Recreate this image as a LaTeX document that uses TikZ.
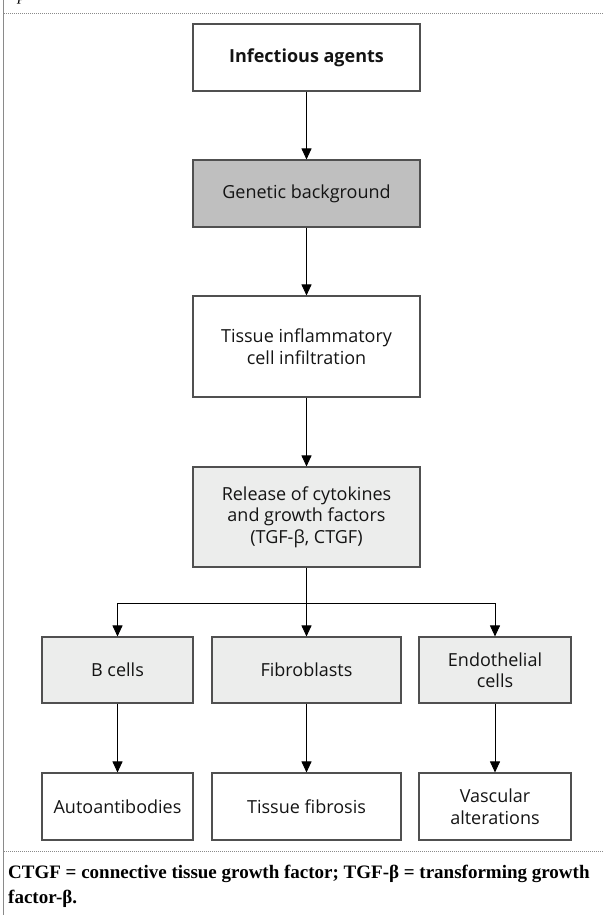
\documentclass[tikz,border=0pt]{standalone}
\usepackage{fontspec}
\setmainfont{Open Sans}
\newfontfamily\capfont{Liberation Serif}
\usetikzlibrary{arrows.meta}
\definecolor{boxline}{HTML}{505050}
\definecolor{darkfill}{HTML}{BFBFBF}
\definecolor{lightfill}{HTML}{ECEDEC}
\definecolor{frame}{HTML}{8A8A8A}
\tikzset{
  box/.style={draw=boxline, line width=1.1pt, align=center, inner sep=2pt,
    font=\fontsize{18}{21.5}\selectfont, text=black!92},
  arr/.style={-{Triangle[length=11pt,width=10pt]}, line width=0.9pt, black},
  ln/.style={line width=0.9pt, black},
  dots/.style={draw=frame, line width=0.8pt, dash pattern=on 0.8pt off 1.2pt},
}
\begin{document}
\begin{tikzpicture}[x=1pt,y=-1pt]
\useasboundingbox (0,0) rectangle (604,915);
\draw[frame, line width=1.3pt] (3.5,0) -- (3.5,915);
\coordinate (t1) at (4,13);
\coordinate (t2) at (604,13);
\coordinate (b1) at (4,851);
\coordinate (b2) at (604,851);
\draw[dots] (t1) -- (t2);
\draw[dots] (b1) -- (b2);
\node[anchor=base, font=\capfont\itshape\fontsize{17}{17}\selectfont, inner sep=0pt] (p) at (22,1) {p};

\node[box, minimum width=227pt, minimum height=67pt, font=\bfseries\fontsize{18}{21.5}\selectfont] (inf) at (306.5,57.5) {Infectious agents};
\node[box, fill=darkfill, minimum width=227pt, minimum height=67pt] (gen) at (306.5,193.5) {Genetic background};
\node[box, minimum width=227pt, minimum height=101pt] (tis) at (306.5,346.5) {Tissue inflammatory\\cell infiltration};
\node[box, fill=lightfill, minimum width=227pt, minimum height=100pt] (rel) at (306.5,517) {Release of cytokines\\and growth factors\\(TGF-β, CTGF)};

\node[box, fill=lightfill, minimum width=151pt, minimum height=66pt] (bc) at (117.5,670) {B cells};
\node[box, fill=lightfill, minimum width=189pt, minimum height=66pt] (fb) at (306.5,670) {Fibroblasts};
\node[box, fill=lightfill, minimum width=152pt, minimum height=66pt] (ec) at (495,670) {Endothelial\\cells};

\node[box, minimum width=151pt, minimum height=67pt] (aa) at (117.5,806.5) {Autoantibodies};
\node[box, minimum width=189pt, minimum height=67pt] (tf) at (306.5,806.5) {Tissue fibrosis};
\node[box, minimum width=152pt, minimum height=67pt] (va) at (495,806.5) {Vascular\\alterations};

\draw[arr] (inf) -- (gen);
\draw[arr] (gen) -- (tis);
\draw[arr] (tis) -- (rel);
\coordinate (br) at (306.5,603);
\coordinate (brl) at (117.5,603);
\coordinate (brr) at (495,603);
\draw[ln] (rel.south) -- (br);
\draw[ln] (brl) -- (brr);
\draw[arr] (brl) -- (bc.north);
\draw[arr] (br) -- (fb.north);
\draw[arr] (brr) -- (ec.north);
\draw[arr] (bc) -- (aa);
\draw[arr] (fb) -- (tf);
\draw[arr] (ec) -- (va);

\node[anchor=north west, align=left, inner sep=0pt,
  font=\capfont\bfseries\fontsize{19}{25}\selectfont] (cap) at (8,865)
  {CTGF = connective tissue growth factor; TGF-β = transforming growth\\factor-β.};
\end{tikzpicture}
\end{document}
